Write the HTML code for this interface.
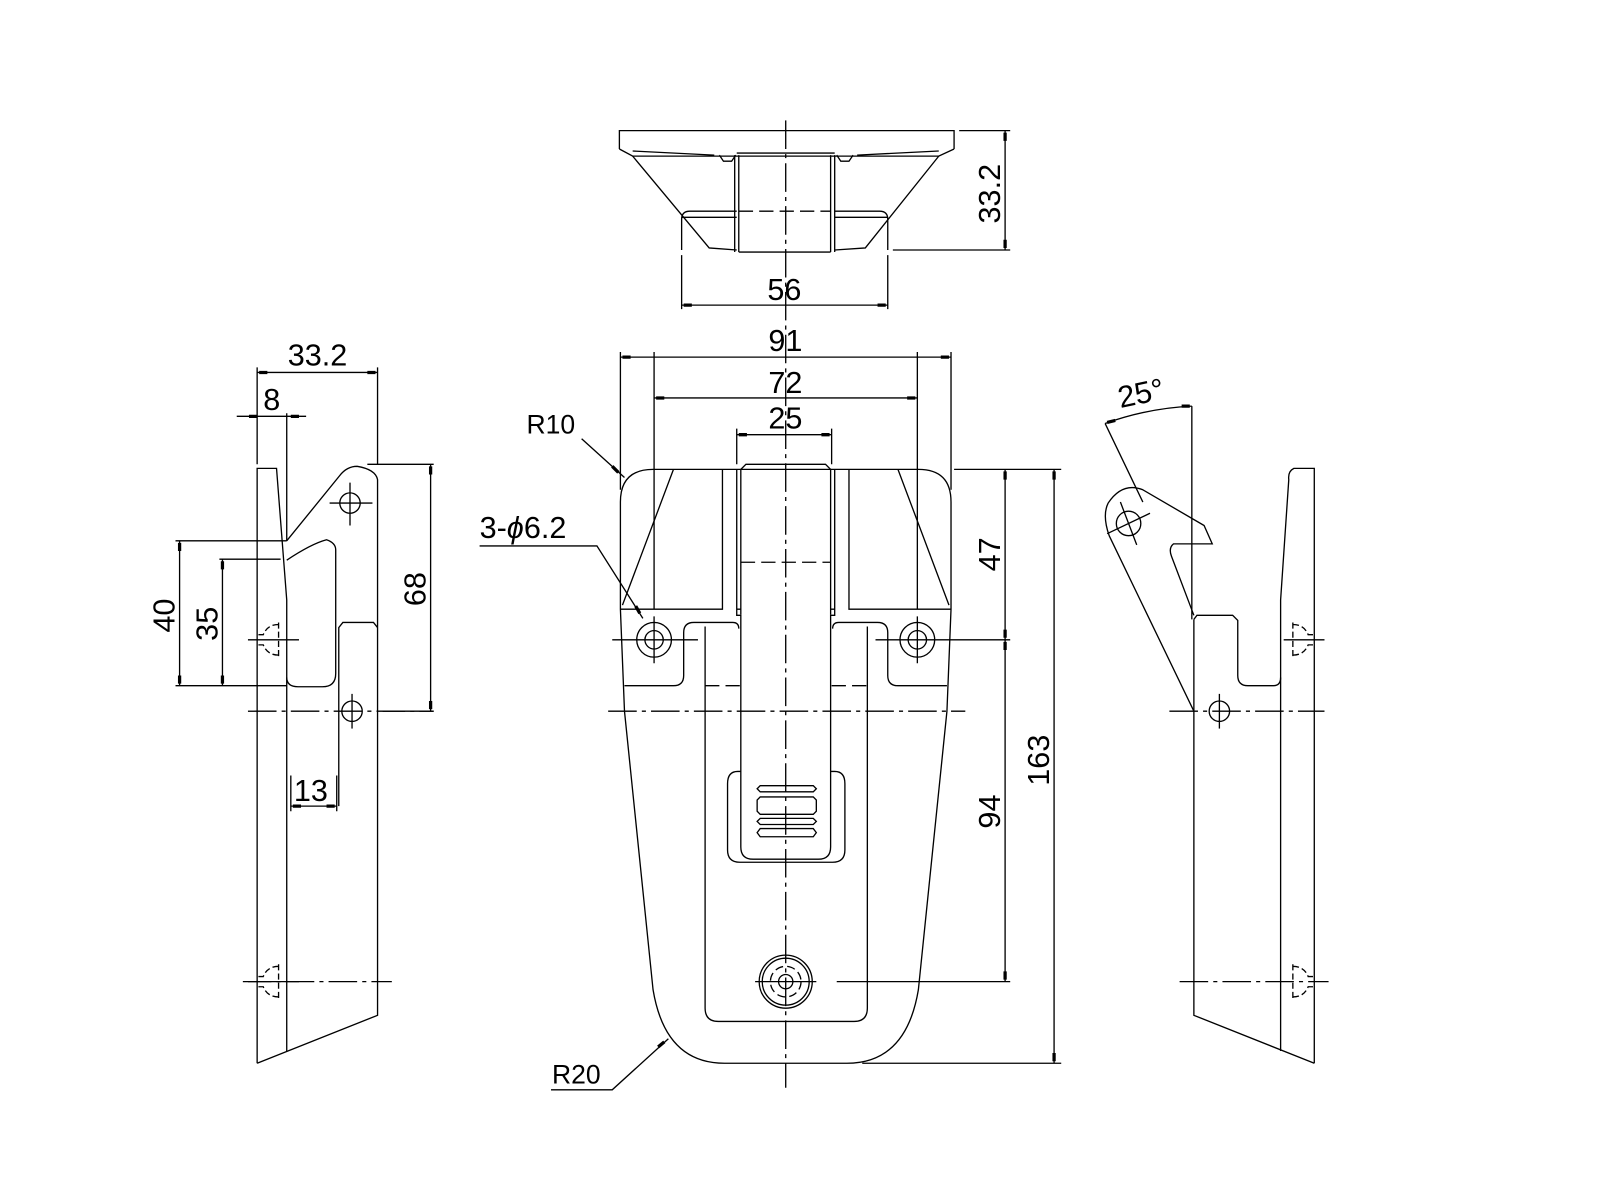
<!DOCTYPE html>
<html><head><meta charset="utf-8"><style>html,body{margin:0;padding:0;background:#fff}svg{display:block}</style></head>
<body>
<svg width="1600" height="1200" viewBox="0 0 1568 1176" xmlns="http://www.w3.org/2000/svg" fill="none" stroke="#000" stroke-width="1.3" font-family="Liberation Sans, sans-serif">
<g stroke-dasharray="28 5 4 5">
<line x1="770" y1="118" x2="770" y2="1066"/>
<line x1="596" y1="697" x2="946" y2="697"/>
<line x1="243" y1="697" x2="425" y2="697"/>
<line x1="1146" y1="697" x2="1298" y2="697"/>
<line x1="238" y1="962" x2="384" y2="962"/>
<line x1="1156" y1="962" x2="1302" y2="962"/>
</g>
<!-- TOP VIEW -->
<path d="M607 146V128H935V146"/>
<path d="M607 146L620 153L920 153L935 146"/>
<path d="M620 153L695 243L722 245M920 153L848 243L818 245"/>
<path d="M620 148L700 152M920 148L840 152"/>
<path d="M705 152l4 6h8l4 -6M820 152l4 6h8l4 -6"/>
<path d="M722 150H818"/>
<path d="M724 152V247M818 152V247M720 152V247M814 152V247"/>
<path d="M668 245V215q0-8 8-8h46M870 245V215q0-8-8-8h-44"/>
<path d="M668 213H722M870 213H818"/>
<line x1="724" y1="207" x2="814" y2="207" stroke-dasharray="14 6"/>
<path d="M724 247H814"/>
<!-- dims top -->
<path d="M668 250V303M870 250V303M940 128H990M875 245H990"/>
<path d="M668 299H870M985 128V245"/>
<g fill="#000" stroke="none" font-size="30">
<text x="752" y="294">56</text>
<text transform="translate(980 219) rotate(-90)">33.2</text>
</g>
<!-- FRONT VIEW -->
<path d="M640 460H900Q932 460 932 492V597L928 697L900 970Q888 1042 830 1042H710Q652 1042 640 970L612 697L608 597V492Q608 460 640 460Z"/>
<path d="M641 345V597M899 345V597"/>
<path d="M660 460L610 593M880 460L930 593"/>
<path d="M608 597H708V460M932 597H832V460"/>
<path d="M722 460V603H726M818 460V603H814M722 597H726M814 597H818"/>
<path d="M726 602V460L731 455H809L814 460V602"/>
<line x1="726" y1="551" x2="814" y2="551" stroke-dasharray="14 6"/>
<path d="M726 602V830Q726 842 738 842H802Q814 842 814 830V602"/>
<path d="M726 756H723Q713 756 713 768V833Q713 845 725 845H816Q828 845 828 833V768Q828 756 818 756H814"/>
<path d="M745 770H797l3 3-3 3H745l-3-3zM745 781H797l3 3V795l-3 3H745l-3-3V784zM745 802H797l3 3-3 3H745l-3-3zM745 812H797l3 4-3 4H745l-3-4z"/>
<path d="M691 614V988Q691 1001 704 1001H837Q850 1001 850 988V614"/>
<path d="M612 672H660Q670 672 670 662V620Q670 610 680 610H718Q724 610 724 616M928 672H880Q870 672 870 662V620Q870 610 860 610H822Q816 610 816 616"/>
<line x1="691" y1="672" x2="725" y2="672" stroke-dasharray="14 6"/>
<line x1="815" y1="672" x2="849" y2="672" stroke-dasharray="14 6"/>
<circle cx="641" cy="627" r="17"/><circle cx="641" cy="627" r="9"/>
<circle cx="899" cy="627" r="17"/><circle cx="899" cy="627" r="9"/>
<path d="M600 627H684M641 604V650M858 627H990M899 604V650"/>
<circle cx="770" cy="962" r="26"/><circle cx="770" cy="962" r="23"/>
<circle cx="770" cy="962" r="15" stroke-dasharray="8 4"/><circle cx="770" cy="962" r="7"/>
<path d="M740 962H800M820 962H990"/>
<!-- front dims -->
<path d="M608 345V480M932 345V480M722 420V455M815 420V455M935 460H1040M845 1042H1040"/>
<path d="M608 350H932M641 390H899M722 426H815M985 460V627M985 627V962M1033 460V1042"/>
<path d="M570 430L612 468M470 535H585L630 606M540 1068H600L655 1018"/>
<!-- arrow marks -->
<g stroke-width="3.2">
<path d="M670 299h8M860 299h8M985 130v8M985 235v8"/>
<path d="M610 350h8M922 350h8M643 390h8M889 390h8M724 426h8M805 426h8"/>
<path d="M985 462v8M985 617v8M985 629v8M985 952v8M1033 462v8M1033 1032v8"/>
<path d="M606 463l-6-6M627 601l-4-7M651 1021l-6 5"/>
<path d="M254 365h8M360 365h8M244 408h8M285 408h8M176 532v8M176 662v8M218 550v8M218 662v8M422 457v8M422 687v8M287 790h8M320 790h8"/>
<path d="M1085 414l8-2M1158 398h8"/>
</g>
<g fill="#000" stroke="none" font-size="30">
<text x="753" y="344">91</text>
<text x="753" y="385">72</text>
<text x="753" y="420">25</text>
<text x="516" y="425" font-size="26">R10</text>
<text x="470" y="527">3-<tspan font-style="italic">ϕ</tspan>6.2</text>
<text x="541" y="1062" font-size="26">R20</text>
<text transform="translate(980 560) rotate(-90)">47</text>
<text transform="translate(980 812) rotate(-90)">94</text>
<text transform="translate(1028 770) rotate(-90)">163</text>
</g>
<!-- LEFT VIEW -->
<path d="M252 1042V459H271L281 588V1030"/>
<path d="M252 1042L370 995V470Q368 460 350 457Q340 457 333 466L281 530"/>
<path d="M281 549Q305 533 320 529Q329 532 329 539V660Q329 673 316 673H292Q281 673 281 664"/>
<path d="M370 615L366 610H336L332 615V790"/>
<circle cx="343" cy="493" r="10"/><path d="M323 493H365M343 473V515"/>
<circle cx="345" cy="697" r="10"/><path d="M345 680V714"/>
<g stroke-dasharray="6 3"><path d="M273 612Q262 612 258 622H252M273 642Q262 642 258 632H252M273 610V645"/><path d="M273 947Q262 947 258 957H252M273 977Q262 977 258 967H252M273 945V980"/></g>
<path d="M243 627H293M243 962H293"/>
<path d="M252 360V455M370 360V455M281 405V530M172 530H281M215 548H275M172 672H281M215 672H281M360 455H425M375 697H425M285 760V795M330 760V795"/>
<path d="M252 365H370M232 408H300M176 530V672M218 548V672M422 455V697M285 790H330"/>
<g fill="#000" stroke="none" font-size="30">
<text x="282" y="358">33.2</text>
<text x="258" y="402">8</text>
<text x="288" y="785">13</text>
<text transform="translate(171 620) rotate(-90)">40</text>
<text transform="translate(213 628) rotate(-90)">35</text>
<text transform="translate(417 594) rotate(-90)">68</text>
</g>
<!-- RIGHT VIEW -->
<path d="M1288 1042V459H1268Q1262 462 1263 470L1255 588V1030"/>
<path d="M1288 1042L1170 995V607"/>
<path d="M1170 607L1173 603H1208L1213 608V662Q1213 672 1223 672H1248Q1255 672 1255 664"/>
<path d="M1170 697L1087 525Q1080 505 1086 493Q1100 472 1120 480L1180 515L1188 533H1150Q1145 537 1148 545L1170 603"/>
<circle cx="1106" cy="513" r="12"/><path d="M1085 523L1127 503M1098 492L1114 534"/>
<g stroke-dasharray="6 3"><path d="M1267 612Q1278 612 1282 622H1288M1267 642Q1278 642 1282 632H1288M1267 610V645"/><path d="M1267 947Q1278 947 1282 957H1288M1267 977Q1278 977 1282 967H1288M1267 945V980"/></g>
<path d="M1258 627H1298"/>
<circle cx="1195" cy="697" r="10"/><path d="M1195 680V714"/>
<path d="M1168 398V607M1083 415L1120 492"/>
<path d="M1083 415Q1125 400 1168 398"/>
<g fill="#000" stroke="none" font-size="30">
<text transform="translate(1098 400) rotate(-12)">25°</text>
</g>
</svg>
</body></html>
